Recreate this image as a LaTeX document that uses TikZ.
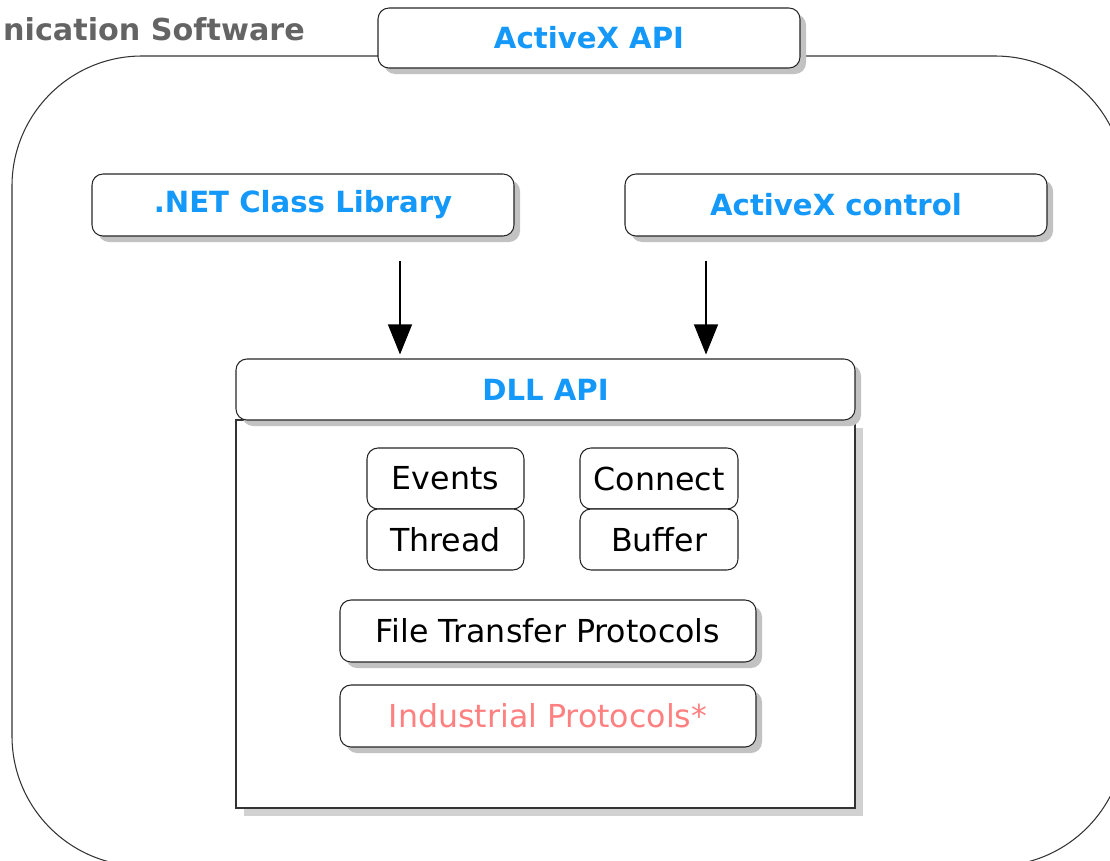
\documentclass[tikz,border=0pt]{standalone}
\usepackage{fontspec}
\setmainfont{DejaVu Sans}
\usetikzlibrary{arrows.meta,shadows}

\definecolor{apiblue}{RGB}{20,152,250}
\definecolor{protopink}{RGB}{255,128,128}
\definecolor{titlegray}{RGB}{100,100,100}

\tikzset{
  box/.style={draw=black!85, fill=white, rounded corners=0.22cm, line width=0.6pt,
    inner sep=0pt, font=\fontsize{18}{21}\selectfont},
  shbox/.style={box, drop shadow={shadow xshift=0.12cm, shadow yshift=-0.12cm,
    fill=black!24, opacity=1}},
  apibox/.style={shbox, text=apiblue, font=\fontsize{16.6}{20}\selectfont\bfseries},
  arr/.style={-{Triangle[length=0.6cm,width=0.48cm]}, line width=0.6pt}
}

\begin{document}
\begin{tikzpicture}
        \useasboundingbox (0,0) rectangle (22.2,-17.2);

        % outer frame
        \draw [black!80, line width=0.6pt, rounded corners=2.6cm] (0.24,-1.12) rectangle (22.5,-17.32);
        \node [anchor=east, text=titlegray, font=\fontsize{17.2}{21}\selectfont\bfseries] (title) at (6.22,-0.58) {nication Software};

        % top level
        \node [apibox, minimum width=8.44cm, minimum height=1.2cm] (axapi) at (11.78,-0.76) {ActiveX API};
        \node [apibox, minimum width=8.44cm, minimum height=1.24cm] (netlib) at (6.06,-4.1) {.NET Class Library};
        \node [apibox, minimum width=8.44cm, minimum height=1.24cm] (axctrl) at (16.72,-4.1) {ActiveX control};

        % DLL
        \draw [black!80, fill=white, line width=0.6pt, drop shadow={shadow xshift=0.16cm, shadow yshift=-0.16cm, fill=black!18, opacity=1}]
          (4.72,-8.4) rectangle (17.1,-16.16);
        \node [apibox, minimum width=12.38cm, minimum height=1.22cm] (dllapi) at (10.91,-7.79) {DLL API};

        \node [box, minimum width=3.14cm, minimum height=1.22cm] (events) at (8.91,-9.57) {Events};
        \node [box, minimum width=3.14cm, minimum height=1.22cm] (thread) at (8.91,-10.79) {Thread};
        \node [box, minimum width=3.16cm, minimum height=1.22cm] (connect) at (13.18,-9.57) {Connect};
        \node [box, minimum width=3.16cm, minimum height=1.22cm] (buffer) at (13.18,-10.79) {Buffer};

        \node [shbox, minimum width=8.32cm, minimum height=1.24cm] (ftp) at (10.96,-12.62) {File Transfer Protocols};
        \node [shbox, text=protopink, minimum width=8.32cm, minimum height=1.24cm] (indus) at (10.96,-14.32) {Industrial Protocols*};

        % arrows
        \coordinate (netx) at (8.0,0);
        \coordinate (ctrlx) at (14.12,0);
        \draw [arr, shorten <=0.48cm, shorten >=0.08cm] (netlib.south -| netx) -- (dllapi.north -| netx);
        \draw [arr, shorten <=0.48cm, shorten >=0.08cm] (axctrl.south -| ctrlx) -- (dllapi.north -| ctrlx);
\end{tikzpicture}
\end{document}
